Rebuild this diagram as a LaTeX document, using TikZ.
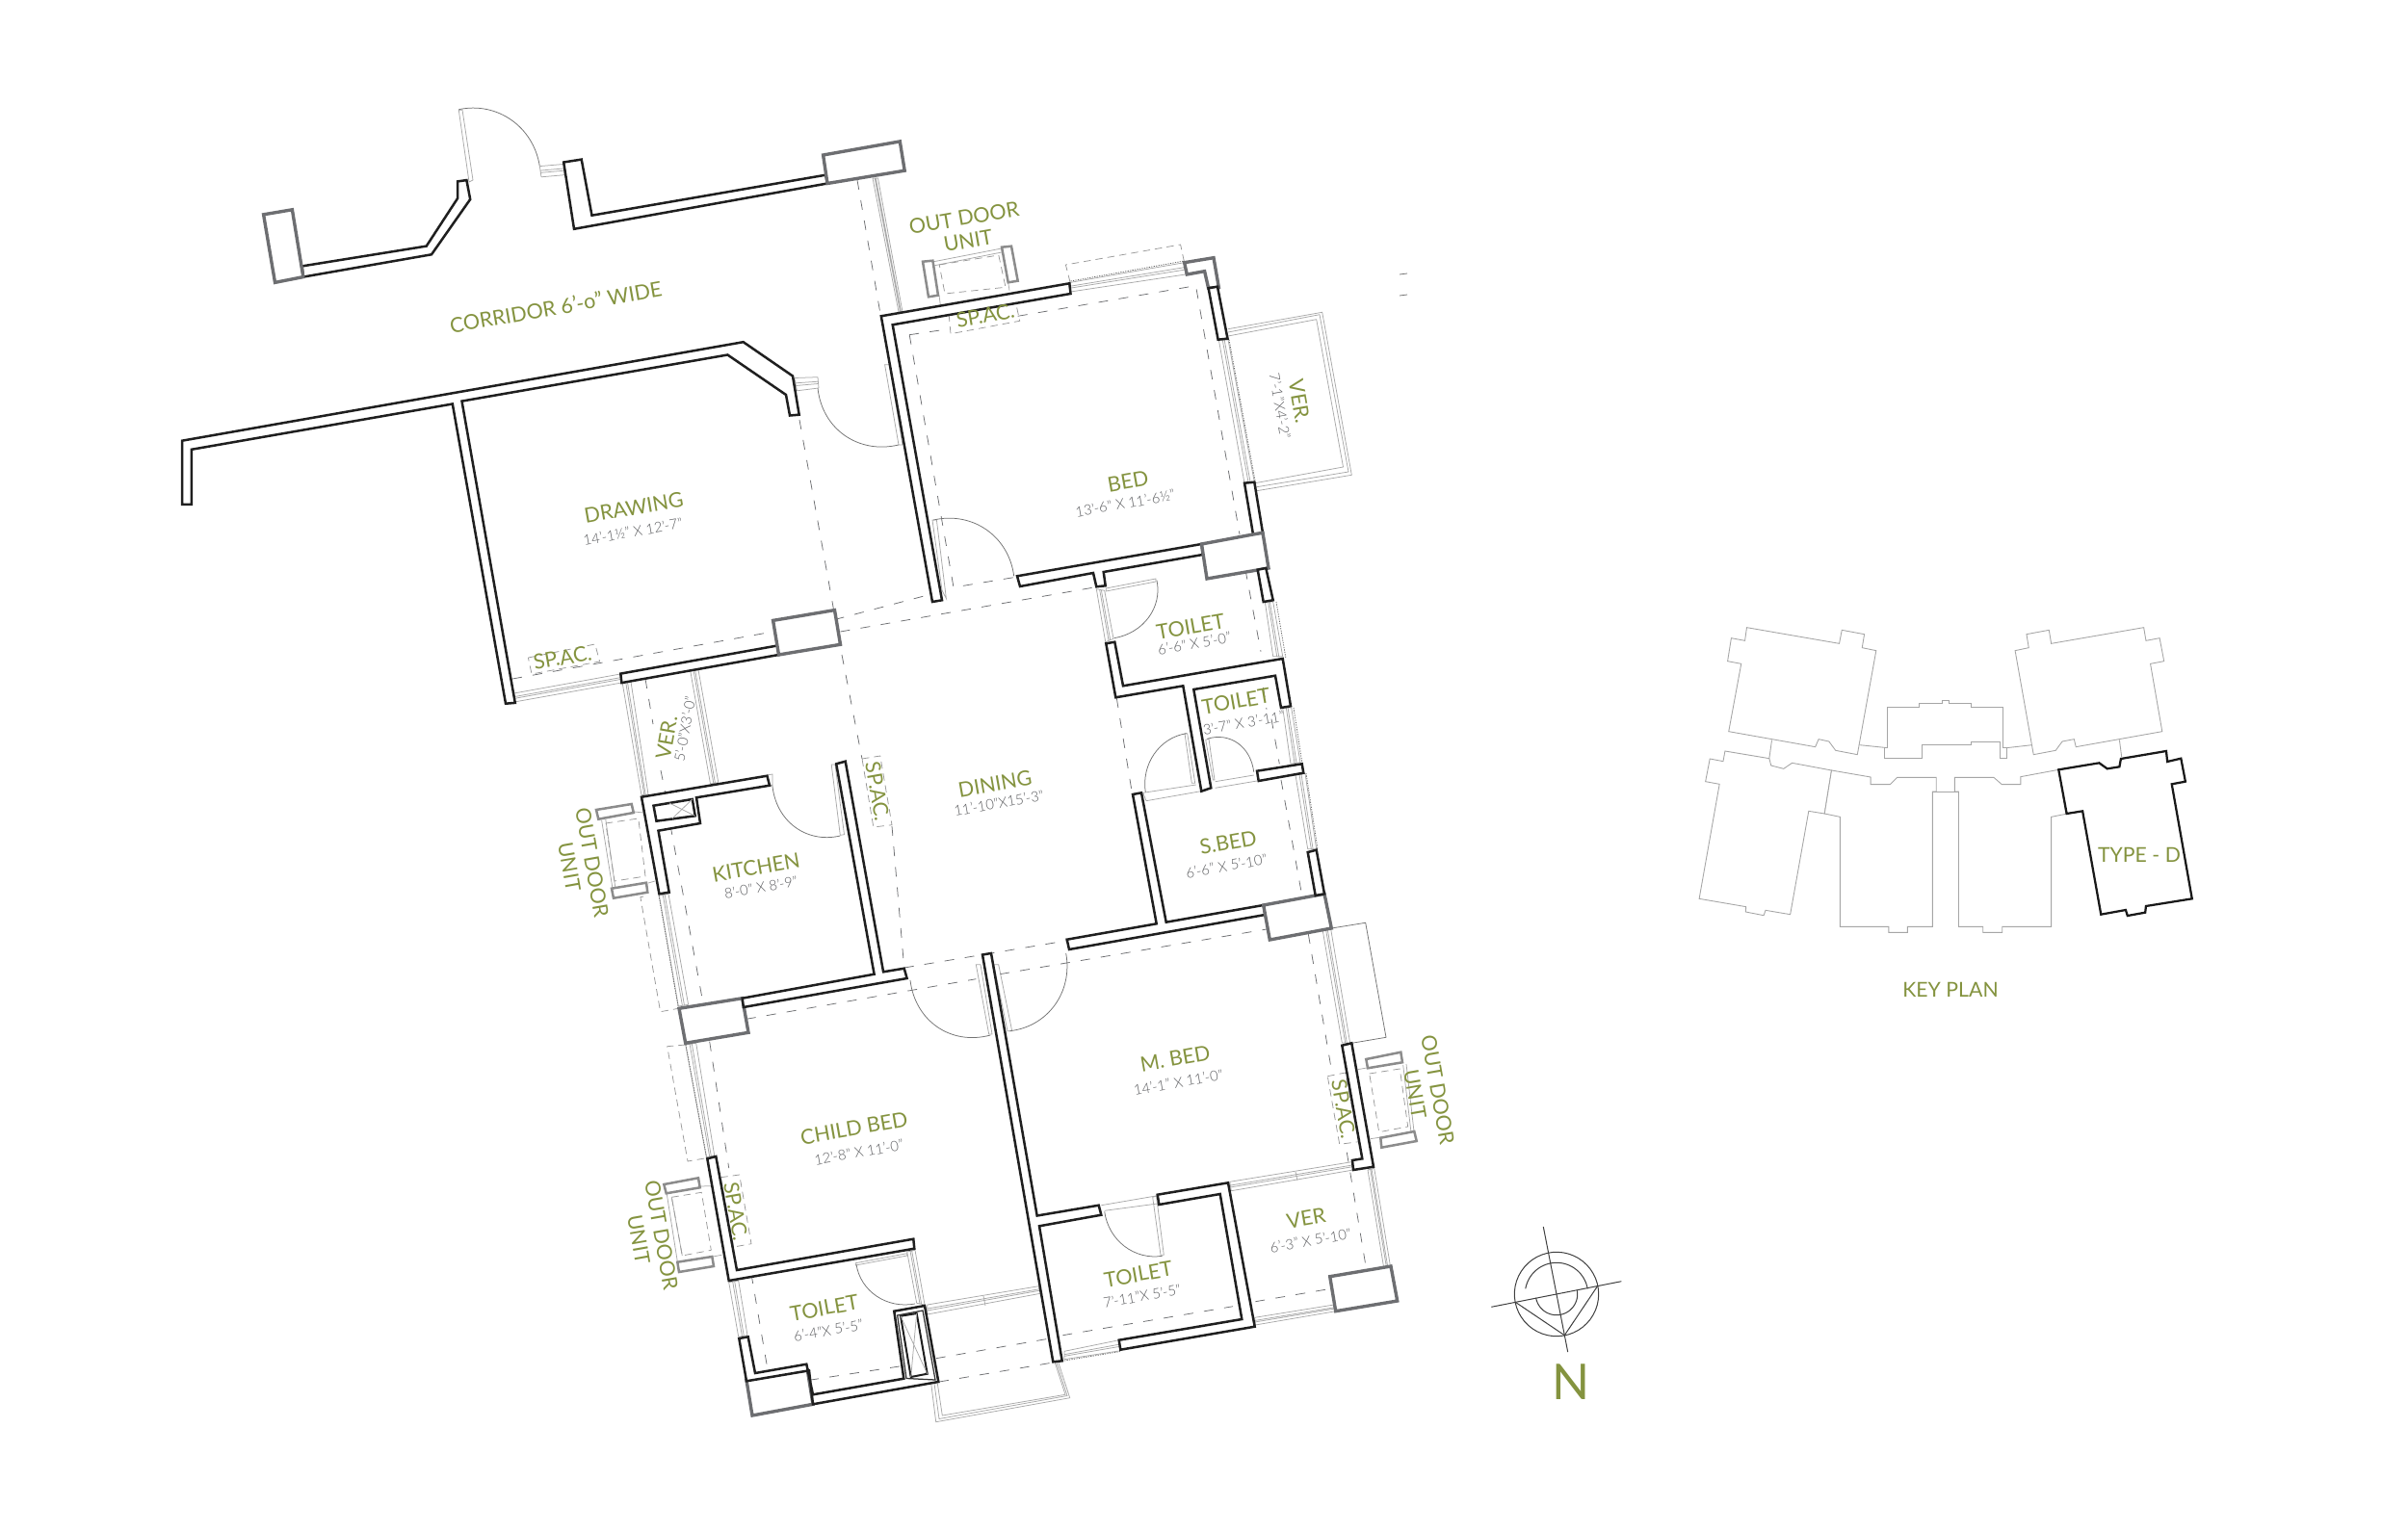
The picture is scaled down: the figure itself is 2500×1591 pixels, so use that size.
\documentclass[tikz,border=0pt]{standalone}
\usepackage{fontspec}
\usetikzlibrary{calc}
\setmainfont{Lato}[UprightFont=* Light]
\newfontfamily\roomfont{Lato}
\definecolor{olive}{HTML}{84933F}
\definecolor{dimg}{HTML}{5C5D60}
\definecolor{colg}{HTML}{6D6E71}
\definecolor{glassg}{HTML}{A9A9A9}
\tikzset{
 wall/.style={draw=black!88,line width=1pt,fill=white,line join=miter},
 colm/.style={draw=colg,line width=1.35pt,fill=white,line join=miter},
 unitbox/.style={draw=black!45,line width=1pt,fill=white},
 glass/.style={draw=glassg,line width=.3pt},
 thin line/.style={draw=black!55,line width=.3pt},
 dash line/.style={draw=colg,line width=.3pt,dash pattern=on 4pt off 4.5pt},
 light dash/.style={draw=black!40,line width=.3pt,dash pattern=on 3pt off 2pt},
 dot line/.style={draw=black!60,line width=.3pt,dash pattern=on .5pt off .5pt},
 room/.style={text=olive,font=\roomfont\fontsize{8.6}{9.6}\selectfont,rotate=10,inner sep=0pt,align=center},
 dims/.style={text=dimg,font=\fontsize{5.9}{7}\selectfont,rotate=10,inner sep=0pt},
 key/.style={draw=black!35,line width=.35pt,fill=white,line join=miter},
}
\newcommand\win[4]{\draw[glass] (#1)--(#2) (#3)--(#4) (#1)--(#3) (#2)--(#4) ($(#1)!.4!(#3)$)--($(#2)!.4!(#4)$) ($(#1)!.6!(#3)$)--($(#2)!.6!(#4)$);}
\newcommand\leaf[4]{\draw[glass] (#1)--(#2)--(#4)--(#3)--cycle;}
\newcommand\doorarc[3]{\draw[thin line] (#2) .. controls ($(#2)+0.5523*(#3)-0.5523*(#1)$) and ($(#3)+0.5523*(#2)-0.5523*(#1)$) .. (#3);}
\newcommand\arcd[5]{\draw[draw=black!75,line width=.4pt] plot[domain=#4:#5,samples=50] ({#1+#3*cos(\x)},{#2+#3*sin(\x)});}
\begin{document}
\begin{tikzpicture}[x=.4pt,y=-.4pt]
\useasboundingbox (0,0) rectangle (2500,1591);
\fill[white] (0,0) rectangle (2500,1591);

% ---- dashed beams
\draw[dash line] (890,187)--(914,326);
\draw[dash line] (532,705)--(802.6,656);
\draw[dash line] (866.5,643.5)--(968.4,616.6);
\draw[dash line] (872.5,656)--(1136,610);
\draw[dash line] (830,436)--(865.5,633);
\draw[dash line] (874,680)--(895,788);
\draw[dash line] (926,858)--(938.7,1005);
\draw[dash line] (944.2,347.7)--(985,341.7) (1056.7,328.3)--(1241.5,296.7)--(1287,555);
\draw[dash line] (944.2,347.7)--(990,610)--(1054.7,599.3);
\draw[dash line] (1293,591.7)--(1309,676.7) (1308.3,693)--(1315,736.7) (1320,746.7)--(1328.3,793.3) (1330,810)--(1351.7,930);
\draw[dash line] (1358.3,970)--(1383.3,1116.7) (1398.3,1196.7)--(1418.3,1316.7);
\draw[dash line] (1159.3,725)--(1175,821.7);
\draw[dash line] (670,705)--(678,752) (686,800)--(691,825) (696,857)--(729,1036.7);
\draw[dash line] (938.7,1005)--(1108.8,976.7);
\draw[dash line] (774.8,1058.3)--(1013.4,1016.7) (1038,1011.7)--(1315,965);
\draw[dash line] (736.7,1081.7)--(756.7,1213) (780,1323)--(796,1416.7);
\draw[dash line] (840,1433.3)--(938.3,1418.3) (971.7,1410.7)--(1090,1390) (1103.3,1386.7)--(1280,1356.7) (1303.3,1351.7)--(1381.7,1338.3);
\draw[dash line] (975,1435)--(1093.3,1415);
\draw[light dash] (1111,293)--(1106.4,275)--(1225.6,254)--(1229.6,272.7);
\draw[light dash] (668,931)--(664.9,931.7)--(685.6,1050.7)--(704.3,1047.3);
\draw[light dash] (711.7,1085)--(692.7,1086.7)--(714,1206)--(733.3,1202.7);
\draw[draw=black!55,line width=.3pt] (1453,285)--(1461,284) (1453,307)--(1461,306);

% ---- windows
\win{906,185}{933,324}{911.5,185}{937,324}
\win{532,720.3}{644,700}{534,729}{645.4,709}
\win{1111.5,293.3}{1229.6,272.7}{1111.5,303}{1230.8,285}
\draw[dot line] (1111.5,292)--(1229.6,271);
\win{1265.3,352.7}{1292,501.7}{1275,352.7}{1302.3,500.7}
\draw[dot line] (1276,352.7)--(1303.3,500.7);
\win{1313.3,625}{1321.7,681.7}{1321.7,625}{1331.7,681.7}
\draw[dot line] (1325,625)--(1335,684);
\win{1331.7,735}{1340,793.3}{1340.7,735}{1350,791.7}
\draw[dot line] (1343,735)--(1352,793);
\win{1345,805}{1357.7,881.7}{1355,803.3}{1366.7,881.7}
\draw[dot line] (1356,803)--(1368,882);
\win{1373.3,966.7}{1393.3,1083}{1381.7,965}{1401.7,1083.3}
\win{1276.7,1227.3}{1403.3,1206.7}{1278.3,1236.7}{1405,1215}
\draw[glass] (1345,1217)--(1347,1226);
\win{1105,1403.3}{1161.7,1391.7}{1105,1411.7}{1163.3,1402.7}
\draw[dot line] (1105,1413)--(1163.3,1403.5);
\win{1302.7,1368.3}{1385,1355}{1303.3,1376}{1386.7,1361.7}
\win{1420,1215}{1436.7,1316.7}{1426.7,1213.3}{1443.3,1314}
\win{646,708}{666,825.7}{655,708}{673,825}
\win{716.7,696.7}{737.5,814}{725,695.7}{745.8,812.7}
\win{684.4,930}{704.3,1045}{694,928.3}{714.6,1043.3}
\draw[dot line] (684,930)--(704,1045);
\win{711.7,1085}{733.3,1201.7}{722.7,1083.3}{741.7,1200}
\draw[dot line] (712,1085)--(733.5,1201);
\win{756.7,1331.7}{766.7,1388.3}{766.7,1330}{776,1386.7}
\win{962.7,1355}{1078.3,1335.7}{962.7,1365}{1080,1343.3}
\draw[glass] (1021,1346)--(1023,1356);

% ---- balconies
\draw[glass] (1275,341.7)--(1372.7,324.3)--(1403.3,493.3)--(1303,510);
\draw[glass] (1275,345)--(1370,326.7)--(1400,490)--(1303,506);
\draw[glass] (1275,349)--(1366.7,331.7)--(1394.5,485)--(1303,501.7);
\draw[glass] (966.7,1436.7)--(971.7,1476.7)--(1110.7,1451.7)--(1098.3,1413.3);
\draw[glass] (970,1436.7)--(975,1473.5)--(1108,1449.5)--(1096.5,1414);
\draw[glass] (973.3,1436.7)--(978.3,1470)--(1106,1448.3)--(1095,1414.3);
\draw[thin line] (1382.3,964)--(1417.7,958.3)--(1439,1077.3)--(1403.3,1083.3);

% ---- doors
\leaf{476.3,114.5}{487,189}{480,114}{491,187}
\doorarc{488,188}{476.3,113.7}{560.3,172.6}
\win{560.3,172.6}{585,170.5}{562,183.8}{586,181.7}
\leaf{918.6,378.8}{933,462}{923.4,378.8}{937,462}
\doorarc{925,385}{849,403}{933,462}
\win{824.8,392.5}{849,391.7}{827.5,405.8}{850,403}
\leaf{968,540}{978,613}{972.4,540}{982.4,621.7}
\doorarc{979,615}{969.2,540}{1052.7,598.3}
\leaf{863.2,794}{872.3,867.3}{867,794}{876.5,866.7}
\doorarc{866,800}{801.8,815}{872.3,868}
\draw[glass] (796.4,805)--(802,804)--(802,815)--(799,816);
\win{1138.3,611.7}{1147.7,666.7}{1146.7,613.3}{1156,663.3}
\leaf{1148.3,611}{1200,601}{1148.3,614}{1200,604}
\doorarc{1146,612}{1201,602.7}{1156.7,662.7}
\leaf{1251.7,768.3}{1259.3,810}{1255,767.3}{1261,810}
\doorarc{1259,815}{1253.3,767.3}{1301.7,801.7}
\draw[glass] (1261.7,811.7)--(1301.7,805) (1261.7,818.3)--(1305,811);
\leaf{1230,761.7}{1237.3,813.3}{1232.7,761.7}{1240.7,813.3}
\doorarc{1240,815}{1231.7,761.7}{1189.3,823}
\draw[glass] (1186.7,823.3)--(1241.7,815) (1190,831.7)--(1246.7,821.7) (1186.7,823.3)--(1190,831.7);
\leaf{1013.3,1001.7}{1026.7,1074}{1018,1001.7}{1030,1074}
\doorarc{1019,998}{945,1018}{1028.3,1075}
\leaf{1031.7,1001.7}{1046,1070.7}{1036.7,1001.7}{1050.7,1070.7}
\doorarc{1035,998}{1106.7,990}{1048.3,1070.7}
\leaf{1196.7,1243.3}{1205,1303.3}{1200.5,1242}{1208.3,1303.3}
\doorarc{1199,1250}{1146.7,1258.3}{1206.7,1304.3}
\draw[glass] (1143.3,1251.7)--(1201.7,1241.7) (1146.7,1257.3)--(1201.7,1250);
\leaf{888.3,1311.7}{941.7,1301.7}{888.3,1314}{941.7,1304}
\doorarc{942,1303}{889,1313}{950,1354}
\win{941.7,1300}{951.7,1353.3}{950,1298.3}{960,1355}

% ---- outdoor units
\draw[glass] (968,272)--(1040,258) (969,276)--(1040,262) (975,306.7)--(976.4,317.3) (1046.7,293.3)--(1048,301.7);
\draw[light dash] (975.2,275)--(1036.8,265)--(1044,298.3)--(981,305)--cycle;
\draw[unitbox] (958,271.7)--(968.4,270.7)--(974,306.7)--(964,308.3)--cycle;
\draw[unitbox] (1040,256.7)--(1050,255.7)--(1056.7,291.7)--(1046.7,293.3)--cycle;

\draw[glass] (624.6,851.7)--(635.8,921.7) (628.8,851)--(638.7,921) (658.6,843)--(668,844) (673,917)--(680,915);
\draw[light dash] (628.8,855)--(662.8,850)--(670,910)--(638,915)--cycle;
\draw[unitbox] (619,841)--(655.7,835)--(657.8,844)--(621.3,850.7)--cycle;
\draw[unitbox] (635,922.7)--(671,916.7)--(672.3,926.7)--(637,932.7)--cycle;

\draw[glass] (692.3,1240)--(703.3,1310) (697.3,1243.3)--(708.3,1304) (726,1232)--(738.3,1231.7) (740,1305)--(749.3,1303.3);
\draw[light dash] (697.3,1243.3)--(728.3,1238.3)--(738.3,1298.3)--(708.3,1304)--cycle;
\draw[unitbox] (689.3,1230)--(725,1223.3)--(726.7,1233.3)--(691.7,1239.3)--cycle;
\draw[unitbox] (703.3,1310.7)--(739.3,1305)--(741,1315)--(705,1321)--cycle;

\draw[glass] (1409.3,1110.7)--(1419,1109) (1460,1105)--(1468,1175) (1456.7,1106)--(1465,1176) (1422.7,1182.7)--(1434,1181);
\draw[light dash] (1421.7,1115)--(1453.3,1110)--(1461.7,1170)--(1431.7,1175.7)--cycle;
\draw[unitbox] (1418.3,1100)--(1454.3,1092.7)--(1456,1103.3)--(1420,1109.3)--cycle;
\draw[unitbox] (1433.3,1181.7)--(1468.3,1175)--(1470.7,1185)--(1434.3,1191.7)--cycle;

% ---- SP.AC boxes
\draw[light dash] (548.4,683)--(617.8,669)--(622.6,687)--(552,700)--cycle;
\draw[light dash] (985,325)--(1054.7,315)--(1058.7,333.3)--(987,346.7)--cycle;
\draw[light dash] (895,788)--(913.8,785)--(926,856.7)--(906.8,859)--cycle;
\draw[light dash] (1378.3,1117.7)--(1396.7,1114)--(1410.7,1185.7)--(1390.7,1188.3)--cycle;
\draw[light dash] (748.3,1222.7)--(767.7,1220)--(780,1291.7)--(761.7,1295)--cycle;

% ---- walls
\draw[wall] (313.7,276.4)--(442.7,255.6)--(475.2,205.8)--(475.2,188.4)--(484.4,187.1)--(488.2,207)--(448,264.3)--(314.8,287.6)--cycle;
\draw[colm] (273.6,222.8)--(303.4,217.8)--(314.8,287.6)--(285.5,293.4)--cycle;
\draw[wall] (585.2,168.5)--(603.7,165.6)--(614.5,223.7)--(857.3,181.7)--(859,190.5)--(596,237.8)--cycle;
\draw[colm] (854.6,161)--(934.3,146.9)--(939.2,177.2)--(859,190.5)--cycle;
\draw[wall] (189,457.7)--(771.7,355.2)--(823,390.5)--(829.7,430.7)--(820,431.5)--(816,410)--(755.4,368.5)--(479.5,416.6)--(534.8,729.9)--(525,730.7)--(469.8,419.5)--(198.8,466.8)--(198.8,524)--(189,524)--cycle;
\draw[wall] (644.3,699.6)--(807,670.5)--(808.5,680)--(645.4,709.1)--cycle;
\draw[colm] (802.6,644.4)--(866.5,633.6)--(872.5,669.3)--(808.5,680)--cycle;
% bed
\draw[wall] (914.8,328.3)--(1110.3,294.3)--(1111.5,305)--(926.7,337.3)--(978,623.3)--(968,625)--cycle;
\draw[colm] (1229.6,272.7)--(1260,267.7)--(1265.3,298.3)--(1254.6,299.3)--(1250.6,281.7)--(1232.3,285)--cycle;
\draw[wall] (1254.6,299.3)--(1264,297.7)--(1274.5,351.7)--(1264.6,352.7)--cycle;
\draw[wall] (1292,501.7)--(1302.3,500.7)--(1311,553.3)--(1301,555)--cycle;
\draw[wall] (1056,598.3)--(1247.5,565)--(1248.6,576)--(1145.7,594)--(1147.7,608.3)--(1138.3,609.3)--(1135,595)--(1059,609)--cycle;
\draw[colm] (1247.5,565)--(1301,555)--(1311,553.3)--(1317,590)--(1253,601)--cycle;
\draw[wall] (1305.7,591.7)--(1314.3,590)--(1321.7,623.3)--(1311.7,625)--cycle;
% toilets
\draw[wall] (1148.3,668.3)--(1157.3,666.7)--(1166,712.3)--(1331.7,684)--(1340,733.3)--(1330,735)--(1324,701.7)--(1239.3,716)--(1257.3,818.3)--(1247.3,821.7)--(1228.3,712.3)--(1158.3,724.3)--cycle;
\draw[wall] (1305,800.7)--(1351.7,793.3)--(1353.3,802.7)--(1306.7,811)--cycle;
% s.bed
\draw[wall] (1176,825)--(1185,823.3)--(1210.7,957.7)--(1311.7,940)--(1313.3,950)--(1110,986)--(1107.7,975.7)--(1200.7,959.3)--cycle;
\draw[colm] (1311.7,940)--(1375,928.3)--(1382.3,964)--(1318.3,976)--cycle;
\draw[wall] (1357.7,885)--(1366.7,882.7)--(1375,928.3)--(1365.7,930)--cycle;
% kitchen
\draw[wall] (666,827.7)--(796.4,805.7)--(799,815.7)--(723,828.3)--(727,855)--(683.5,862.7)--(694.7,926.7)--(684.4,928.3)--cycle;
\draw[wall] (678.5,836.7)--(718.8,830)--(721.7,847.3)--(681.5,852.7)--cycle;
\draw[glass] (695,834)--(721.7,847.3) (718.8,830)--(698,850);
\draw[colm] (705,1047.3)--(770.7,1036.7)--(777,1072.3)--(711.7,1083.3)--cycle;
\draw[wall] (770.7,1036.7)--(907.6,1011.7)--(868.2,793.3)--(877.7,790.7)--(917.1,1009.3)--(938.7,1005.7)--(941.6,1016)--(771.9,1046)--cycle;
% m bed
\draw[wall] (1020,991.5)--(1029,990)--(1076.7,1262.5)--(1140.7,1251.7)--(1143.3,1261.7)--(1079,1273.3)--(1102.7,1413.3)--(1093.3,1414.3)--cycle;
\draw[wall] (1201.7,1240.7)--(1275,1228.3)--(1302.7,1377.7)--(1163.3,1401.7)--(1161.7,1391.7)--(1289.3,1370)--(1266.7,1240)--(1203.3,1251)--cycle;
\draw[wall] (1393.3,1085.7)--(1403.3,1083.3)--(1426,1211.7)--(1405,1215)--(1404,1205)--(1414.3,1203.3)--cycle;
\draw[colm] (1380.7,1325.7)--(1444,1315)--(1450.7,1351)--(1386.7,1361.7)--cycle;
% child
\draw[wall] (734.3,1203.3)--(743.3,1201)--(765,1319)--(948.3,1286.7)--(949.3,1296.7)--(756.7,1330)--cycle;
\draw[colm] (775,1433.3)--(838.3,1422.7)--(844,1458.3)--(781,1470)--cycle;
\draw[wall] (767.3,1390)--(776.7,1388.3)--(784,1426)--(837.3,1416.7)--(844,1448.3)--(938.3,1431.7)--(928.3,1361.7)--(960,1356)--(974.3,1435)--(844,1458.3)--(840,1423.3)--(775,1434.3)--cycle;
\draw[draw=black!80,line width=.5pt,fill=white] (931.7,1366)--(958,1361)--(971,1433)--(941,1431.5)--cycle;
\draw[draw=black!88,line width=.8pt,fill=white] (935,1366.7)--(951.7,1364)--(962.7,1426.7)--(945.7,1430)--cycle;
\draw[glass] (935,1366.7)--(962.7,1426.7) (951.7,1364)--(945.7,1430);

% ---- labels
\node[room] (corridor) at (577,319) {CORRIDOR 6’-o” WIDE};
\node[room] (drawing) at (658,527) {DRAWING};
\node[dims] (drawingd) at (657,552) {14’-1½” X 12’-7”};
\node[room] (spac1) at (584,683) {SP.AC.};
\node[room] (bed) at (1171,500) {BED};
\node[dims] (bedd) at (1168,522.7) {13’-6” X 11’-6½”};
\node[room] (spac2) at (1023,327.7) {SP.AC.};
\node[room] (odu1) at (1003,238) {OUT DOOR\\UNIT};
\node[room,rotate=-90] (ver1) at (1349,417) {VER.};
\node[dims,rotate=-90] (ver1d) at (1329,421.7) {7’-1”X4’-2”};
\node[room] (t1) at (1236,650.7) {TOILET};
\node[dims] (t1d) at (1240,668.3) {6’-6” X 5’-0”};
\node[room] (t2) at (1283.3,728.3) {TOILET};
\node[dims] (t2d) at (1291,750.7) {3’-7” X 3’-11”};
\node[room] (sbed) at (1275,875) {S.BED};
\node[dims] (sbedd) at (1273.3,899.3) {6’-6” X 5’-10”};
\node[room] (dining) at (1033,814) {DINING};
\node[dims] (diningd) at (1037,834) {11’-10”X15’-3”};
\node[room] (kitchen) at (785,900.7) {KITCHEN};
\node[dims] (kitchend) at (790,921.7) {8’-0” X 8’-9”};
\node[room,rotate=70] (ver2) at (692,766) {VER.};
\node[dims,rotate=70] (ver2d) at (711,757) {5’-0”X3’-0”};
\node[room,rotate=-90] (spac3) at (911,821.7) {SP.AC.};
\node[room,rotate=-90] (odu2) at (603,898) {OUT DOOR\\UNIT};
\node[room] (child) at (886.7,1171.7) {CHILD BED};
\node[dims] (childd) at (891.7,1196.7) {12’-8” X 11’-0”};
\node[room] (mbed) at (1220,1099.3) {M. BED};
\node[dims] (mbedd) at (1223.3,1124) {14’-1” X 11’-0”};
\node[room,rotate=-90] (spac4) at (1395,1151.7) {SP.AC.};
\node[room,rotate=-90] (odu3) at (1481,1134) {OUT DOOR\\UNIT};
\node[room,rotate=-90] (spac5) at (764,1258) {SP.AC.};
\node[room,rotate=-90] (odu4) at (675,1285) {OUT DOOR\\UNIT};
\node[room] (t3) at (855.7,1358.3) {TOILET};
\node[dims] (t3d) at (860,1381.7) {6’-4”X 5’-5”};
\node[room] (t4) at (1181.7,1323.3) {TOILET};
\node[dims] (t4d) at (1185.7,1346) {7’-11”X 5’-5”};
\node[room] (ver3) at (1356,1265) {VER};
\node[dims] (ver3d) at (1360.7,1288.3) {6’-3” X 5’-10”};

% ---- north symbol
\arcd{1616}{1344}{43.7}{0}{360}
\arcd{1616}{1344}{32.7}{-170}{-10}
\arcd{1616}{1344}{21.7}{-10}{170}
\draw[draw=black!75,line width=.4pt] (1602.3,1274)--(1627.7,1404) (1548.3,1357.3)--(1683.3,1330.7);
\draw[draw=black!75,line width=.4pt] (1573.3,1352.3)--(1624.3,1386.7)--(1658.3,1336);
\node[text=olive,font=\roomfont\fontsize{20.5}{22}\selectfont,inner sep=0pt] (north) at (1631,1435) {N};

% ---- key plan
\begin{scope}[shift={(1740,620)},x=.4pt/2.613,y=-.4pt/3]
\draw[key] (574,470)--(498,461);
\draw[key] (897,470)--(966,461);
\draw[key] (260,446)--(253,503);
\draw[key] (1203,445)--(1209,498);
\draw[key] (192,95)--(443,145)--(450,103)--(511,116)--(505,158)--(543,167)--(492,491)--(433,478)--(415,450)--(387,443)--(378,467)--(143,419)--(177,208)--(140,200)--(150,128)--(187,136)--cycle;
\draw[key] (574,470)--(574,343)--(660,343)--(660,331)--(722,331)--(722,321)--(740,321)--(740,331)--(801,331)--(801,343)--(888,343)--(888,470)--(897,470)--(897,501)--(880,501)--(880,452)--(801,452)--(801,461)--(668,461)--(668,501)--(566,501)--(566,470)--cycle;
\draw[key] (1269,95)--(1018,145)--(1012,103)--(951,116)--(957,158)--(920,167)--(970,491)--(1030,478)--(1048,450)--(1080,443)--(1085,467)--(1319,419)--(1287,208)--(1324,200)--(1312,128)--(1275,136)--cycle;
\draw[key] (133,480)--(253,503)--(258,525)--(292,535)--(315,517)--(422,540)--(403,675)--(360,667)--(310,989)--(243,976)--(238,992)--(189,981)--(190,965)--(63,940)--(118,583)--(80,575)--(92,504)--(128,512)--cycle;
\draw[key] (422,540)--(528,561)--(528,584)--(581,584)--(600,562)--(706,562)--(706,606)--(696,606)--(696,1027)--(628,1027)--(628,1045)--(577,1045)--(577,1027)--(445,1027)--(445,685)--(403,675)--cycle;
\draw[key] (1038,538)--(935,560)--(935,584)--(884,584)--(862,562)--(756,562)--(756,606)--(767,606)--(767,1027)--(833,1027)--(833,1045)--(885,1045)--(885,1027)--(1018,1027)--(1018,685)--(1058,676)--cycle;
\draw[key] (696,606)--(767,606);
\draw[draw=black!90,line width=.9pt,fill=white,line join=miter] (1038,538)--(1148,517)--(1170,535)--(1203,529)--(1207,504)--(1330,480)--(1333,513)--(1370,503)--(1382,575)--(1345,583)--(1400,940)--(1275,963)--(1273,983)--(1225,993)--(1220,975)--(1153,989)--(1103,667)--(1060,675)--cycle;
\end{scope}
\node[text=olive,font=\roomfont\fontsize{8.5}{9.6}\selectfont,inner sep=0pt] (typed) at (2221,888) {TYPE - D};
\node[text=olive,font=\roomfont\fontsize{8.5}{9.6}\selectfont,inner sep=0pt] (keyplan) at (2025,1028) {KEY PLAN};
\end{tikzpicture}
\end{document}
